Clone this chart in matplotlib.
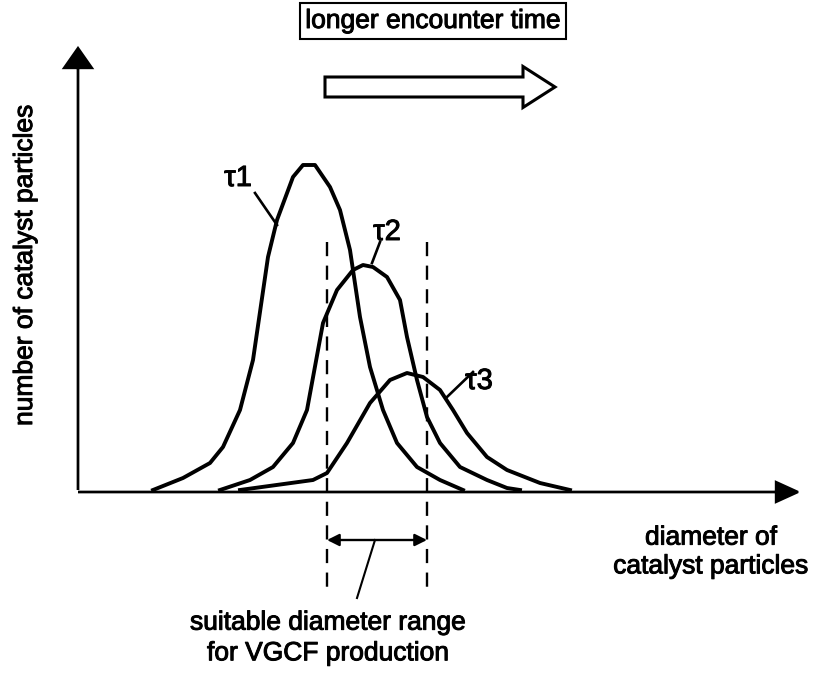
import matplotlib.pyplot as plt
import matplotlib.patches as mpatches
import matplotlib.patheffects as pe

plt.rcParams['font.family'] = ['Liberation Sans', 'DejaVu Sans']

# --- data: size distributions (arbitrary units, origin at axis corner) ---
tau1_x = [75, 105, 132, 145, 162, 175, 190, 199, 215, 225, 237, 252, 262, 272, 282, 292, 305, 319, 339, 362, 385]
tau1_y = [0, 12, 27, 43, 80, 130, 233, 270, 313, 325, 325, 303, 280, 240, 173, 123, 80, 47, 23, 10, 0]

tau2_x = [142, 172, 195, 215, 229, 245, 259, 275, 285, 295, 309, 322, 329, 339, 349, 362, 382, 409, 429, 442]
tau2_y = [0, 10, 23, 47, 80, 167, 200, 220, 225, 223, 213, 190, 153, 110, 73, 47, 23, 10, 2, 0]

tau3_x = [162, 235, 249, 269, 292, 312, 329, 345, 362, 375, 389, 409, 429, 462, 492]
tau3_y = [0, 10, 17, 47, 87, 110, 117, 113, 100, 80, 57, 33, 20, 7, 0]

range_lo = 249
range_hi = 349

labels = ['\u03c41', '\u03c42', '\u03c43']
label_pos = [(160, 312), (309, 258), (401, 109)]
leaders = [((177, 297), (199, 265)), ((302, 248), (294, 227)), ((395, 118), (369, 93))]

fig = plt.figure(figsize=(8.18, 6.78), dpi=100)
ax = fig.add_axes([0, 0, 1, 1])
ax.set_xlim(-78, 740)
ax.set_ylim(-188, 490)
ax.set_axis_off()

bold = [pe.withStroke(linewidth=0.7, foreground='k')]

# axes with arrow heads
ax.add_patch(mpatches.FancyArrow(0, 0, 0, 442, width=0, head_width=28, head_length=20,
                                 length_includes_head=True, color='k', lw=1.7))
ax.add_patch(mpatches.FancyArrow(0, -2, 720, 0, width=0, head_width=20, head_length=22,
                                 length_includes_head=True, color='k', lw=1.7))

# curves
for xs, ys in [(tau1_x, tau1_y), (tau2_x, tau2_y), (tau3_x, tau3_y)]:
    ax.plot(xs, ys, color='k', lw=2.8, solid_joinstyle='round')

for lab, (lx, ly), (p0, p1) in zip(labels, label_pos, leaders):
    ax.text(lx, ly, lab, fontsize=21, ha='center', va='center', path_effects=bold)
    ax.plot([p0[0], p1[0]], [p0[1], p1[1]], color='k', lw=1.9)

# suitable range
for xv in [range_lo, range_hi]:
    ax.plot([xv, xv], [248, -100], color='k', lw=1.7, dashes=(6, 4))
ax.annotate('', xy=(range_lo, -50), xytext=(range_hi, -50),
            arrowprops=dict(arrowstyle='<|-|>', color='k', lw=1.7, mutation_scale=18,
                            shrinkA=0, shrinkB=0))
ax.plot([297, 279], [-50, -108], color='k', lw=1.5)
ax.text(250, -148, 'suitable diameter range\nfor VGCF production', fontsize=19,
        ha='center', va='center', linespacing=1.35, path_effects=bold)

ax.text(633, -62, 'diameter of\ncatalyst particles', fontsize=19,
        ha='center', va='center', linespacing=1.25, path_effects=bold)
ax.text(-53, 225, 'number of catalyst particles', fontsize=19, rotation=90,
        ha='center', va='center', path_effects=bold)

# encounter time box and hollow arrow
ax.text(355, 469, 'longer encounter time', fontsize=19, ha='center', va='center',
        path_effects=bold,
        bbox=dict(boxstyle='square,pad=0.22', fc='white', ec='k', lw=1.5))
ax.add_patch(mpatches.FancyArrow(247, 403, 230, 0, width=20, head_width=41, head_length=32,
                                 length_includes_head=True, fc='white', ec='k', lw=2.2))

fig.savefig('out.png', dpi=100)
